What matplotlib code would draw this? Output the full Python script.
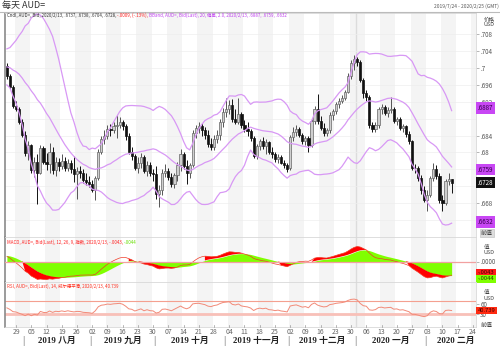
import numpy as np
import pandas as pd
import matplotlib
matplotlib.use('Agg')
import matplotlib.pyplot as plt
import matplotlib.transforms as mtrans
from matplotlib.ticker import FixedLocator, FuncFormatter

plt.rcParams['font.family'] = ['Noto Sans CJK SC', 'DejaVu Sans']

# ---------------- data ----------------
prior_closes = [
    .6930, .6940, .6915, .6885, .6860, .6905, .6880, .6880, .6880, .6905,
    .6920, .6920, .6920, .6925, .6940, .6990, .6985, .6980, .6990, .6985,
    .6960, .6950, .6920, .6905, .6860, .6870, .6865, .6900, .6935, .6920,
    .6950, .6965, .6970, .6995, .7020, .6980, .6990, .7020, .7015, .6990,
    .6980, .6965, .6985, .6975, .7010, .7025, .7005, .7020, .7040, .7030,
    .7025, .7005]

opens = [
    .7005, .6980, .6954, .6910, .6902, .6872, .6842, .6798, .6818, .6758,
    .6778, .6752, .6810, .6778, .6772, .6800, .6758, .6778, .6768, .6780,
    .6764, .6776, .6760, .6748, .6755, .6752, .6735, .6730, .6725, .6712,
    .6740, .6802, .6832, .6840, .6856, .6852, .6862, .6866, .6872, .6862,
    .6838, .6800, .6792, .6762, .6776, .6790, .6756, .6770, .6752, .6748,
    .6702, .6712, .6752, .6756, .6742, .6724, .6746, .6770, .6796, .6768,
    .6750, .6770, .6846, .6858, .6862, .6852, .6842, .6820, .6812, .6832,
    .6842, .6872, .6896, .6904, .6912, .6880, .6872, .6890, .6864, .6856,
    .6850, .6834, .6792, .6815, .6826, .6816, .6824, .6800, .6796, .6784,
    .6790, .6776, .6770, .6762, .6836, .6848, .6856, .6842, .6826, .6834,
    .6818, .6874, .6904, .6874, .6858, .6846, .6852, .6888, .6898, .6914,
    .6922, .6930, .6944, .6982, .7012, .7022, .7014, .6972, .6940, .6932,
    .6864, .6856, .6866, .6902, .6908, .6894, .6900, .6904, .6874, .6878,
    .6858, .6862, .6844, .6826, .6764, .6762, .6740, .6710, .6688, .6698,
    .6740, .6760, .6744, .6686, .6680, .6732, .6737]
highs = [
    .7012, .6986, .6960, .6922, .6908, .6880, .6850, .6826, .6820, .6788,
    .6795, .6818, .6815, .6798, .6822, .6812, .6790, .6786, .6796, .6790,
    .6785, .6782, .6792, .6765, .6768, .6760, .6752, .6745, .6735, .6745,
    .6808, .6840, .6852, .6865, .6868, .6872, .6888, .6884, .6876, .6868,
    .6845, .6812, .6796, .6790, .6798, .6794, .6780, .6778, .6760, .6768,
    .6722, .6760, .6772, .6762, .6752, .6752, .6778, .6808, .6800, .6782,
    .6775, .6852, .6866, .6872, .6870, .6860, .6852, .6835, .6842, .6852,
    .6880, .6905, .6929, .6925, .6926, .6902, .6928, .6896, .6876, .6872,
    .6856, .6838, .6820, .6832, .6836, .6832, .6828, .6812, .6802, .6796,
    .6794, .6782, .6776, .6842, .6860, .6866, .6860, .6846, .6840, .6838,
    .6880, .6910, .6938, .6886, .6870, .6858, .6896, .6904, .6920, .6928,
    .6936, .6948, .6988, .7018, .7032, .7026, .7018, .6976, .6948, .6936,
    .6872, .6872, .6908, .6914, .6912, .6908, .6932, .6908, .6884, .6884,
    .6868, .6866, .6850, .6830, .6772, .6768, .6746, .6720, .6710, .6745,
    .6774, .6770, .6750, .6700, .6738, .6752, .6738]
lows = [
    .6975, .6950, .6905, .6897, .6868, .6836, .6792, .6782, .6752, .6742,
    .6677, .6748, .6772, .6758, .6750, .6748, .6745, .6755, .6760, .6755,
    .6755, .6750, .6730, .6690, .6740, .6728, .6722, .6718, .6705, .6688,
    .6735, .6795, .6820, .6832, .6838, .6845, .6835, .6858, .6852, .6830,
    .6795, .6782, .6758, .6752, .6764, .6750, .6744, .6744, .6732, .6690,
    .6671, .6700, .6742, .6735, .6718, .6715, .6732, .6755, .6760, .6725,
    .6740, .6765, .6835, .6846, .6840, .6832, .6812, .6805, .6806, .6822,
    .6830, .6860, .6884, .6890, .6872, .6868, .6868, .6858, .6848, .6840,
    .6828, .6786, .6785, .6805, .6808, .6796, .6796, .6786, .6778, .6776,
    .6772, .6762, .6753, .6758, .6826, .6838, .6836, .6820, .6818, .6802,
    .6812, .6868, .6868, .6852, .6840, .6838, .6846, .6876, .6890, .6906,
    .6916, .6924, .6940, .6974, .6996, .7006, .6966, .6930, .6922, .6858,
    .6848, .6848, .6858, .6890, .6888, .6884, .6894, .6870, .6866, .6852,
    .6848, .6836, .6820, .6758, .6750, .6732, .6702, .6682, .6662, .6694,
    .6732, .6736, .6680, .6660, .6676, .6722, .6704]
closes = [
    .6980, .6954, .6910, .6902, .6872, .6842, .6798, .6818, .6758, .6778,
    .6752, .6810, .6778, .6772, .6800, .6758, .6778, .6768, .6780, .6764,
    .6776, .6760, .6748, .6755, .6752, .6735, .6730, .6725, .6712, .6740,
    .6802, .6832, .6840, .6856, .6852, .6862, .6866, .6872, .6862, .6838,
    .6800, .6792, .6762, .6776, .6790, .6756, .6770, .6752, .6748, .6702,
    .6712, .6752, .6756, .6742, .6724, .6746, .6770, .6796, .6768, .6750,
    .6770, .6846, .6858, .6862, .6852, .6842, .6820, .6812, .6832, .6842,
    .6872, .6896, .6904, .6912, .6880, .6872, .6890, .6864, .6856, .6850,
    .6834, .6792, .6815, .6826, .6816, .6824, .6800, .6796, .6784, .6790,
    .6776, .6770, .6760, .6836, .6848, .6856, .6842, .6826, .6834, .6818,
    .6874, .6904, .6874, .6858, .6846, .6852, .6888, .6898, .6914, .6922,
    .6930, .6944, .6982, .7012, .7022, .7014, .6972, .6940, .6932, .6864,
    .6856, .6866, .6902, .6908, .6894, .6900, .6904, .6874, .6878, .6858,
    .6862, .6844, .6826, .6764, .6762, .6740, .6710, .6688, .6698, .6740,
    .6760, .6744, .6686, .6680, .6732, .6737, .6728]

dates = pd.bdate_range('2019-07-24', '2020-02-13')
axis_dates = pd.bdate_range('2019-07-24', '2020-03-06')
price_ticks = [.708, .704, .700, .696, .692, .684, .680, .668]
band_labels = ['.6887', '.6759', '.6632']
last_label = '.6728'

# ---------------- indicators ----------------
allc = pd.Series(prior_closes + closes)
n0 = len(prior_closes)
mid = allc.rolling(20).mean()
sd = allc.rolling(20).std(ddof=1)
upper = (mid + 2 * sd).values[n0:]
lower = (mid - 2 * sd).values[n0:]
mid = mid.values[n0:]
ema12 = allc.ewm(span=12, adjust=False).mean()
ema26 = allc.ewm(span=26, adjust=False).mean()
macd_s = ema12 - ema26
sig_s = macd_s.ewm(span=9, adjust=False).mean()
macd = macd_s.values[n0:]
sig = sig_s.values[n0:]
dlt = allc.diff()
ag = dlt.clip(lower=0).ewm(alpha=1 / 14, adjust=False).mean()
al = (-dlt.clip(upper=0)).ewm(alpha=1 / 14, adjust=False).mean()
rsi = (100 - 100 / (1 + ag / al)).values[n0:]

N = len(closes)
x = np.arange(N)
o = np.array(opens); h = np.array(highs); l = np.array(lows); c = np.array(closes)

# ---------------- figure ----------------
W, H = 500, 352
fig = plt.figure(figsize=(W / 100, H / 100), dpi=100)
fig.patch.set_facecolor('white')

def rect(x0, y0, x1, y1):
    return [x0 / W, 1 - y1 / H, (x1 - x0) / W, (y1 - y0) / H]

axp = fig.add_axes(rect(4.5, 13, 476, 237))
axm = fig.add_axes(rect(4.5, 237, 476, 282), sharex=axp)
axr = fig.add_axes(rect(4.5, 282, 476, 327), sharex=axp)

XMIN, XMAX = -0.79, 154.0
mondays = [i for i, d in enumerate(axis_dates) if d.weekday() == 0]
yb = [i for i, d in enumerate(axis_dates) if d.year == 2020][0]
for ax in (axp, axm, axr):
    for k, m in enumerate(mondays):
        if k % 2 == 0:
            ax.axvspan(m - 0.5, m + 4.5, color='#f4f4f4', lw=0, zorder=0)
    ax.axvline(yb - 0.5, color='#dcdcdc', lw=1.0, zorder=0.5)
    ax.set_xlim(XMIN, XMAX)
    ax.set_facecolor('white')
    for s in ('top', 'bottom', 'right'):
        ax.spines[s].set_color('#d8d8d8')
        ax.spines[s].set_linewidth(0.6)
    ax.spines['left'].set_color('#8a8a8a')
    ax.spines['left'].set_linewidth(1.2)
    ax.tick_params(axis='x', which='both', bottom=False, labelbottom=False)
    ax.yaxis.tick_right()
    ax.tick_params(axis='y', length=2, width=0.5, color='#999999', pad=1,
                   labelsize=4.5, labelcolor='#555555')

# ---- price panel ----
def y2p(y):
    return 0.708 - (y - 34.3) / 4217.5
axp.set_ylim(y2p(237), y2p(13))
for t in [.708, .704, .700, .696, .692, .688, .684, .680, .676, .672, .668, .664]:
    axp.axhline(t, color='#eeeeee', lw=0.5, zorder=0.6)

up_mask = c >= o
body_lo = np.minimum(o, c)
body_h = np.maximum(np.abs(c - o), 0.00012)
axp.vlines(x[up_mask], l[up_mask], h[up_mask], color='#555555', lw=0.7, zorder=2)
axp.vlines(x[~up_mask], l[~up_mask], h[~up_mask], color='#111111', lw=0.7, zorder=2)
axp.bar(x[up_mask], body_h[up_mask], bottom=body_lo[up_mask], width=0.7,
        color='#cfcfcf', edgecolor='#666666', linewidth=0.5, zorder=3)
axp.bar(x[~up_mask], body_h[~up_mask], bottom=body_lo[~up_mask], width=0.7,
        color='#111111', edgecolor='#111111', linewidth=0.5, zorder=3)

bb_col = '#d898f5'
axp.plot(x, upper, color=bb_col, lw=0.9, zorder=4)
axp.plot(x, mid, color=bb_col, lw=0.9, zorder=4)
axp.plot(x, lower, color=bb_col, lw=0.9, zorder=4)

axp.yaxis.set_major_locator(FixedLocator(price_ticks))
axp.yaxis.set_major_formatter(FuncFormatter(lambda v, p: ('%.3f' % v).lstrip('0').rstrip('0').rstrip('.')))

tr = mtrans.blended_transform_factory(axp.transAxes, axp.transData)
def box(ax, trn, yv, txt, fc, tc, fs=4.5):
    ax.text(1.004, yv, txt, transform=trn, fontsize=fs, color=tc, va='center', ha='left',
            bbox=dict(boxstyle='square,pad=0.25', fc=fc, ec='none'), zorder=10, clip_on=False)
box(axp, tr, y2p(108), band_labels[0], '#c847f4', '#3a0050')
box(axp, tr, float(band_labels[1]), band_labels[1], '#c847f4', '#3a0050')
box(axp, tr, float(last_label), last_label, '#111111', 'white')
box(axp, tr, y2p(222), band_labels[2], '#c847f4', '#3a0050')
fig.text(481 / W, 1 - 233 / H, '前值', fontsize=4.3, color='#444444', va='center', ha='left',
         bbox=dict(boxstyle='square,pad=0.2', fc='#dddddd', ec='#bbbbbb', lw=0.4))

# ---- MACD panel ----
k_m = 3300.0
axm.set_ylim(-(282 - 261.5) / k_m, (261.5 - 237) / k_m)
axm.fill_between(x, 0, sig, color='#80ff00', lw=0, zorder=2)
red_mask = ((sig >= 0) & (macd > sig)) | ((sig < 0) & (macd < sig))
axm.fill_between(x, sig, macd, where=red_mask, interpolate=True, color='#ff0000', lw=0, zorder=3)
axm.plot(x, macd, color='#f03c28', lw=0.5, zorder=4)
axm.axhline(0, color='#f2a0a0', lw=0.9, zorder=5)
axm.yaxis.set_major_locator(FixedLocator([0.0]))
axm.yaxis.set_major_formatter(FuncFormatter(lambda v, p: '.0000'))
trm = mtrans.blended_transform_factory(axm.transAxes, axm.transData)
box(axm, trm, -(272.5 - 261.5) / k_m, '-.0043', '#ff1a1a', '#400000', 4.2)
box(axm, trm, -(279 - 261.5) / k_m, '-.0044', '#7fff00', '#204000', 4.2)

# ---- RSI panel ----
kr = 13 / 40.0
axr.set_ylim(30 - (327 - 314) / kr, 70 + (301 - 282) / kr)
axr.axhline(70, color='#f4a090', lw=0.8, zorder=2)
axr.axhline(30, color='#f8c0b8', lw=2.0, zorder=2)
axr.plot(x, rsi, color='#f28a78', lw=0.7, zorder=3)
axr.yaxis.set_major_locator(FixedLocator([60, 30]))
axr.yaxis.set_major_formatter(FuncFormatter(lambda v, p: '%d' % v))
trr = mtrans.blended_transform_factory(axr.transAxes, axr.transData)
box(axr, trr, 40.739, '40.739', '#ff2a10', '#400000', 4.2)
fig.text(481 / W, 1 - 325 / H, '前值', fontsize=4.3, color='#444444', va='center', ha='left')

# ---- x labels ----
def xpx(i):
    return 4.5 + (i - XMIN) / (XMAX - XMIN) * (476 - 4.5)
for i in mondays:
    if i <= 154:
        xp = xpx(i)
        fig.text(xp / W, 1 - 332 / H, axis_dates[i].strftime('%d'), fontsize=5,
                 color='#666666', ha='center', va='center')
        fig.add_artist(plt.Line2D([xp / W, xp / W], [1 - 327 / H, 1 - 325 / H],
                                  color='#999999', lw=0.5))

month_names = {8: '八月', 9: '九月', 10: '十月', 11: '十一月', 12: '十二月', 1: '一月', 2: '二月'}
full = pd.bdate_range('2019-08-01', '2020-02-28')
pos = {d: i for i, d in enumerate(pd.bdate_range('2019-07-24', '2020-02-28'))}
for (yy, mm), grp in pd.Series(full, index=full).groupby([full.year, full.month]):
    idxs = [pos[d] for d in grp]
    xc = xpx((idxs[0] + idxs[-1]) / 2)
    fig.text(xc / W, 1 - 341 / H, '%d %s' % (yy, month_names[mm]), fontsize=6.3,
             color='#222222', ha='center', va='center', fontweight='bold',
             family=['Liberation Serif', 'Noto Sans CJK SC'])
    fig.text(xpx(idxs[0] - 0.5) / W, 1 - 341 / H, '|', fontsize=6, color='#555555',
             ha='center', va='center')

# ---- headers ----
rend = fig.canvas.get_renderer()
def multitext(x0, y0, parts, fs=3.2):
    xx = x0
    for s, col in parts:
        t = fig.text(xx / W, 1 - y0 / H, s, color=col, fontsize=fs, va='center', ha='left')
        bb = t.get_window_extent(renderer=rend)
        xx += bb.width

multitext(7, 15, [('Cndl, AUD=, Bid, 2020/2/13, .6737, .6738, .6704, .6728, ', '#333333'),
                  ('-.0009, (-.13%), ', '#ff2020'),
                  ('BBand, AUD=, Bid(Last), 20, 偏差, 2.0, 2020/2/13, .6887, .6759, .6632', '#c040f0')])
multitext(7, 242, [('MACD, AUD=, Bid(Last), 12, 26, 9, 指数, 2020/2/13, -.0043, ', '#ff2020'),
                   ('-.0044', '#66dd00')])
multitext(7, 286, [('RSI, AUD=, Bid(Last), 14, 威尔德平滑, 2020/2/13, 40.739', '#ff3020')])

fig.text(2 / W, 1 - 5 / H, '每天 AUD=', fontsize=6.5, color='#333333', va='center', ha='left')
fig.text(499 / W, 1 - 6 / H, '2019/7/24 - 2020/2/25 (GMT)', fontsize=3.5, color='#555555',
         va='center', ha='right')
fig.add_artist(plt.Line2D([0, 1], [1 - 12 / H, 1 - 12 / H], color='#bbbbbb', lw=0.8))
for yv, s in [(19, '价格'), (25, 'USD'), (247, '值'), (253, 'USD'), (292, '值'), (298, 'USD')]:
    fig.text(484 / W, 1 - yv / H, s, fontsize=4, color='#444444', va='center', ha='left')

fig.savefig('out.png', dpi=100)
